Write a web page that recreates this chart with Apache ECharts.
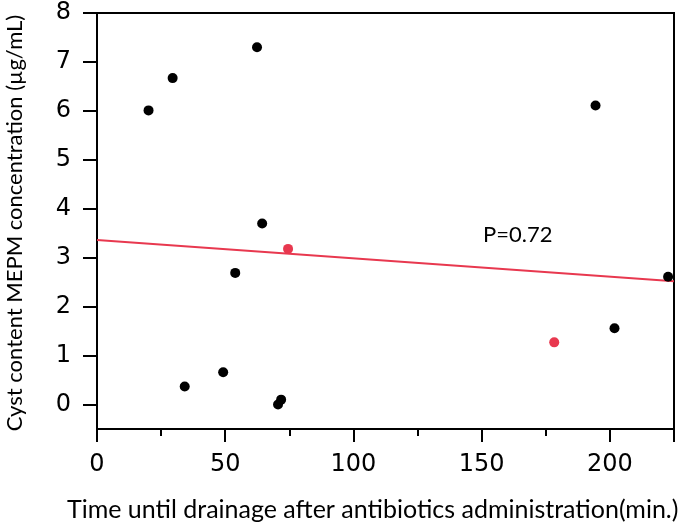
<!DOCTYPE html>
<html><head><meta charset="utf-8">
<script src="https://cdn.jsdelivr.net/npm/echarts@6/dist/echarts.min.js"></script>
<style>html,body{margin:0;padding:0;background:#fff}#c{width:685px;height:529px}</style>
</head><body><div id="c"></div>
<script>
const blackX = [20.1, 29.5, 62.4, 64.4, 53.9, 34.2, 49.2, 70.6, 71.8, 194.4, 222.7, 201.8];
const blackY = [6.01, 6.67, 7.30, 3.70, 2.69, 0.37, 0.66, 0.00, 0.10, 6.11, 2.61, 1.56];
const redX = [74.5, 178.3];
const redY = [3.18, 1.27];
const trendX = [0, 225];
const trendY = [3.36, 2.52];
const yTicks = [0, 1, 2, 3, 4, 5, 6, 7, 8];
const xTitle = 'Time until drainage after antibiotics administration(min.)';
const yTitle = 'Cyst content MEPM concentration (µg/mL)';
const pText = 'P=0.72';

const zip = (a, b) => a.map((v, i) => [v, b[i]]);
const chart = echarts.init(document.getElementById('c'), null, {renderer: 'canvas'});
const axisFont = 'DejaVu Sans';
chart.setOption({
  animation: false,
  grid: {left: 97, right: 11, top: 13, bottom: 100, containLabel: false, outerBoundsMode: 'none',
         show: true, borderColor: '#000', borderWidth: 2, backgroundColor: 'transparent'},
  xAxis: {
    type: 'value', min: 0, max: 225, interval: 50,
    axisLine: {show: true, onZero: false, lineStyle: {color: '#000', width: 2}},
    axisTick: {show: true, length: 13, lineStyle: {color: '#000', width: 2}},
    minorTick: {show: true, splitNumber: 2, length: 7, lineStyle: {color: '#000', width: 2}},
    splitLine: {show: false},
    axisLabel: {fontFamily: axisFont, fontSize: 24, color: '#000', margin: 24, showMaxLabel: false,
      formatter: v => (v % 50 === 0 ? String(v) : '')}
  },
  yAxis: {
    type: 'value', min: -0.5, max: 8,
    axisLine: {show: true, onZero: false, lineStyle: {color: '#000', width: 2}},
    axisTick: {show: true, length: 14, customValues: yTicks, lineStyle: {color: '#000', width: 2}},
    splitLine: {show: false},
    axisLabel: {fontFamily: axisFont, fontSize: 24, color: '#000', margin: 26, customValues: yTicks}
  },
  graphic: [
    {type: 'text', x: 15, y: 223, rotation: Math.PI / 2,
     style: {text: yTitle, font: '22px Lato', fill: '#000', align: 'center', verticalAlign: 'middle'}},
    {type: 'text', left: 67, top: 497, style: {text: xTitle, font: '25px Lato', fill: '#000'}},
    {type: 'text', left: 483, top: 224, style: {text: pText, font: '22px Lato', fill: '#000'}}
  ],
  series: [
    {type: 'scatter', data: zip(blackX, blackY), symbolSize: 10, itemStyle: {color: '#000', opacity: 1}, z: 3},
    {type: 'scatter', data: zip(redX, redY), symbolSize: 10, itemStyle: {color: '#e8384f', opacity: 1}, z: 3},
    {type: 'line', data: zip(trendX, trendY), showSymbol: false, lineStyle: {color: '#e8384f', width: 2}, z: 2}
  ]
});
</script></body></html>
